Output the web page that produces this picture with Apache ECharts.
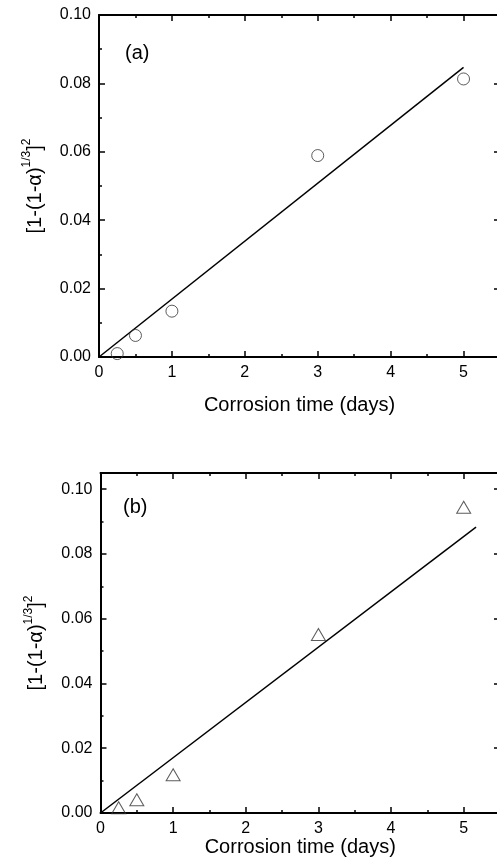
<!DOCTYPE html>
<html>
<head>
<meta charset="utf-8">
<script src="https://cdn.jsdelivr.net/npm/echarts@6/dist/echarts.min.js"></script>
<style>
html,body{margin:0;padding:0;background:#fff;}
#chart{width:497px;height:868px;}
</style>
</head>
<body>
<div id="chart"></div>
<script>
// ---- data ----
var daysA = [0.25, 0.5, 1, 3, 5];
var valuesA = [0.0010, 0.0063, 0.0134, 0.0589, 0.0813];
var fitA = [[0, 0], [5, 0.0847]];

var daysB = [0.25, 0.5, 1, 3, 5];
var valuesB = [0.0016, 0.0041, 0.0118, 0.0551, 0.0944];
var fitB = [[0, 0], [5.17, 0.0883]];

var xTicks = [0, 1, 2, 3, 4, 5];
var yTicks = [0.00, 0.02, 0.04, 0.06, 0.08, 0.10];
var xTitle = 'Corrosion time (days)';
var panelLabels = ['(a)', '(b)'];

var FONT = 'Liberation Sans, Arial, Helvetica, sans-serif';

function pairs(xs, ys) { return xs.map(function (x, i) { return [x, ys[i]]; }); }

function xLabelFmt(v) {
  for (var i = 0; i < xTicks.length; i++) if (Math.abs(v - xTicks[i]) < 1e-9) return String(xTicks[i]);
  return '';
}
function yLabelFmt(v) {
  for (var i = 0; i < yTicks.length; i++) if (Math.abs(v - yTicks[i]) < 1e-9) return yTicks[i].toFixed(2);
  return '';
}

var lineStyle = { color: '#000', width: 2 };

function xAx(g, pos, main, gap) {
  return {
    type: 'value', gridIndex: g, position: pos, min: 0, max: 5.5, interval: 1,
    axisLine: { show: true, onZero: false, lineStyle: lineStyle },
    axisTick: { show: true, inside: true, length: 6, lineStyle: { color: '#000', width: 1.5 } },
    minorTick: { show: true, splitNumber: 2, length: 3, lineStyle: { color: '#000', width: 1.5 } },
    splitLine: { show: false },
    axisLabel: { show: main, margin: 8, fontSize: 16, color: '#000', fontFamily: FONT, formatter: xLabelFmt },
    name: main ? xTitle : '', nameLocation: 'middle', nameGap: gap,
    nameTextStyle: { fontSize: 20, color: '#000', fontFamily: FONT }
  };
}
function yAx(g, pos, main, max) {
  return {
    type: 'value', gridIndex: g, position: pos, min: 0, max: max, interval: 0.02,
    axisLine: { show: true, onZero: false, lineStyle: lineStyle },
    axisTick: { show: true, inside: true, length: 6, lineStyle: { color: '#000', width: 1.5 } },
    minorTick: { show: true, splitNumber: 2, length: 3, lineStyle: { color: '#000', width: 1.5 } },
    splitLine: { show: false },
    axisLabel: { show: main, margin: 8, fontSize: 16, color: '#000', fontFamily: FONT, formatter: yLabelFmt },
    name: main ? '{m|[1-(1-α)}{s|1/3}{m|]}{s|2}' : '',
    nameLocation: 'middle', nameRotate: 90, nameGap: 54,
    nameTextStyle: {
      fontFamily: FONT, color: '#000',
      rich: {
        m: { fontSize: 20, lineHeight: 24, fontFamily: FONT, color: '#000', verticalAlign: 'bottom' },
        s: { fontSize: 12, lineHeight: 12, fontFamily: FONT, color: '#000', verticalAlign: 'top' }
      }
    }
  };
}

var option = {
  backgroundColor: '#fff',
  animation: false,
  grid: [
    { left: 99, width: 401, top: 15, height: 342, outerBoundsMode: 'none', containLabel: false },
    { left: 100.5, width: 399.5, top: 473, height: 340, outerBoundsMode: 'none', containLabel: false }
  ],
  xAxis: [xAx(0, 'bottom', true, 38), xAx(0, 'top', false, 0), xAx(1, 'bottom', true, 24), xAx(1, 'top', false, 0)],
  yAxis: [yAx(0, 'left', true, 0.10), yAx(0, 'right', false, 0.10), yAx(1, 'left', true, 0.105), yAx(1, 'right', false, 0.105)],
  graphic: [
    { type: 'text', left: 125, top: 43, style: { text: panelLabels[0], font: '20px ' + FONT, fill: '#000' } },
    { type: 'text', left: 123, top: 497, style: { text: panelLabels[1], font: '20px ' + FONT, fill: '#000' } }
  ],
  series: [
    { type: 'line', xAxisIndex: 0, yAxisIndex: 0, data: fitA, showSymbol: false, symbol: 'none',
      lineStyle: { color: '#000', width: 1.5 }, z: 2 },
    { type: 'scatter', xAxisIndex: 0, yAxisIndex: 0, data: pairs(daysA, valuesA), symbol: 'circle', symbolSize: 12,
      itemStyle: { color: 'transparent', borderColor: '#333', borderWidth: 1 }, z: 3 },
    { type: 'line', xAxisIndex: 2, yAxisIndex: 2, data: fitB, showSymbol: false, symbol: 'none',
      lineStyle: { color: '#000', width: 1.5 }, z: 2 },
    { type: 'scatter', xAxisIndex: 2, yAxisIndex: 2, data: pairs(daysB, valuesB), symbol: 'triangle', symbolSize: [14, 12],
      itemStyle: { color: 'transparent', borderColor: '#333', borderWidth: 1 }, z: 3 }
  ]
};

var chart = echarts.init(document.getElementById('chart'), null, { renderer: 'canvas' });
chart.setOption(option);
</script>
</body>
</html>
